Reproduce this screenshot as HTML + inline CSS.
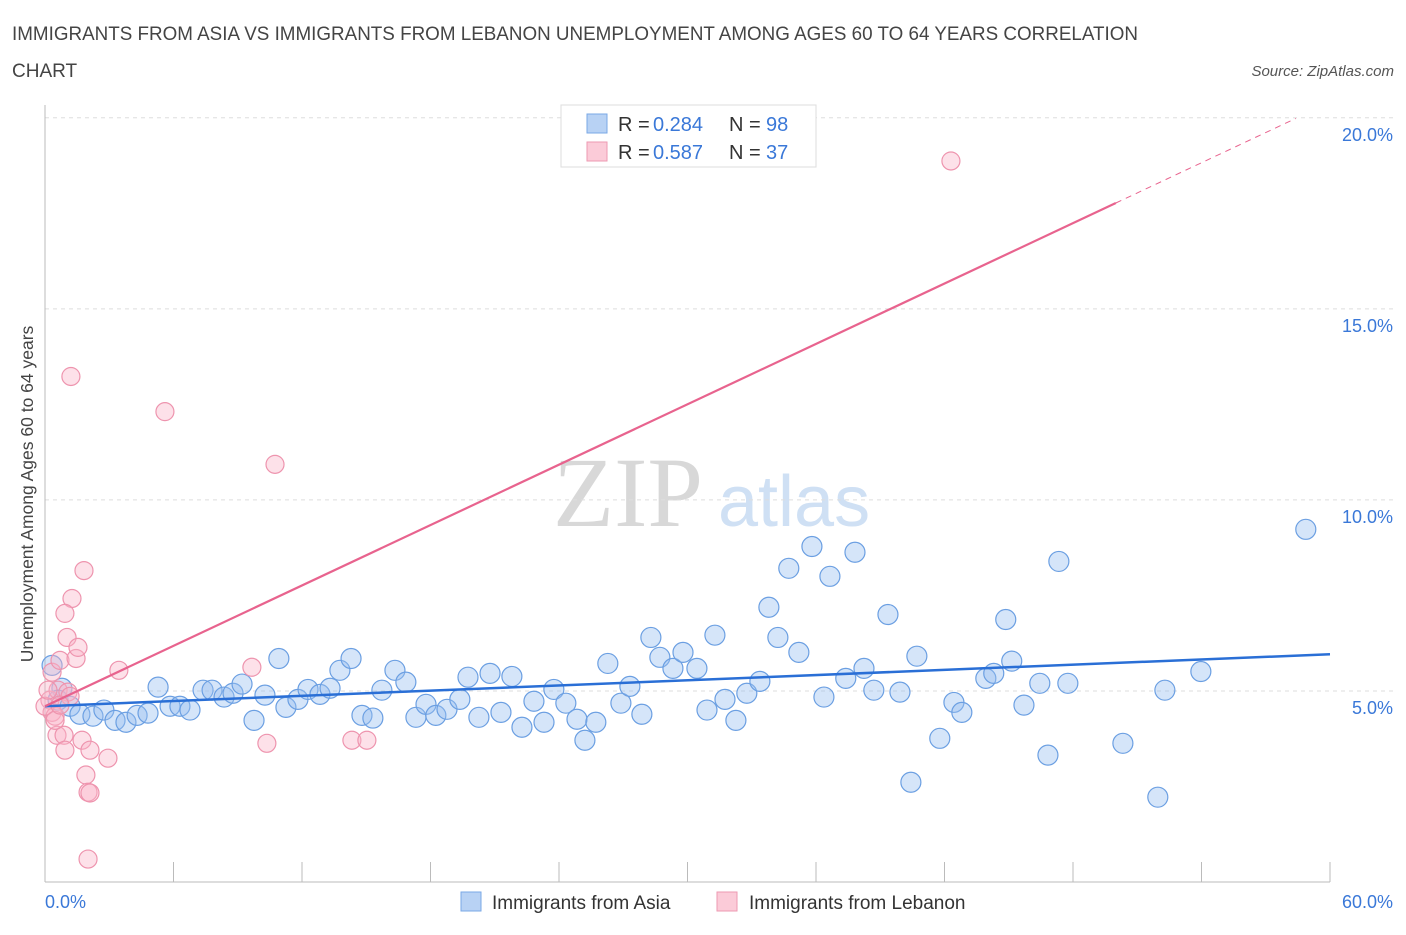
<!DOCTYPE html>
<html><head><meta charset="utf-8"><style>
body{margin:0;background:#fff;font-family:"Liberation Sans",sans-serif}
</style></head><body>
<svg id="chart" width="1406" height="930" viewBox="0 0 1406 930" xmlns="http://www.w3.org/2000/svg" font-family="Liberation Sans, sans-serif">
<text x="12" y="40" font-size="19" fill="#444" textLength="1126" lengthAdjust="spacingAndGlyphs">IMMIGRANTS FROM ASIA VS IMMIGRANTS FROM LEBANON UNEMPLOYMENT AMONG AGES 60 TO 64 YEARS CORRELATION</text>
<text x="12" y="77" font-size="19" fill="#444">CHART</text>
<text x="1394" y="76" font-size="15" fill="#555" text-anchor="end" font-style="italic">Source: ZipAtlas.com</text>
<text x="553" y="526" font-size="100" fill="#d8d8d8" style="font-family:'Liberation Serif',serif">ZIP</text>
<text x="718" y="526" font-size="72" fill="#cfe0f4">atlas</text>
<g id="grid"></g><g id="axes"></g><g id="pts"></g><g id="trend"></g>
<text transform="translate(33,494) rotate(-90)" font-size="17.5" fill="#444" text-anchor="middle">Unemployment Among Ages 60 to 64 years</text>
<g>
<rect x="561" y="105" width="255" height="62" fill="#fff" stroke="#ddd"/>
<rect x="587" y="114" width="20" height="19" fill="#b8d2f4" stroke="#7aa8e6"/>
<rect x="587" y="142" width="20" height="19" fill="#fbcbd8" stroke="#ee9ab2"/>
<text x="618" y="131" font-size="20" fill="#333">R =</text>
<text x="653" y="131" font-size="20" fill="#3a78d8">0.284</text>
<text x="729" y="131" font-size="20" fill="#333">N =</text>
<text x="766" y="131" font-size="20" fill="#3a78d8">98</text>
<text x="618" y="159" font-size="20" fill="#333">R =</text>
<text x="653" y="159" font-size="20" fill="#3a78d8">0.587</text>
<text x="729" y="159" font-size="20" fill="#333">N =</text>
<text x="766" y="159" font-size="20" fill="#3a78d8">37</text>
</g>
<g>
<rect x="461" y="892" width="20" height="19" fill="#b8d2f4" stroke="#7aa8e6"/>
<text x="492" y="909" font-size="19" fill="#333">Immigrants from Asia</text>
<rect x="717" y="892" width="20" height="19" fill="#fbcbd8" stroke="#ee9ab2"/>
<text x="749" y="909" font-size="19" fill="#333">Immigrants from Lebanon</text>
</g>
</svg>
<script>
const xTicksLabels=["0.0%","60.0%"];
const yTickValues=[5,10,15,20];
const yTickLabels=["5.0%","10.0%","15.0%","20.0%"];
const asiaX=[0.33,0.79,0.61,1.17,1.63,2.24,2.75,3.27,3.78,4.30,4.81,5.28,5.84,6.30,6.77,7.38,7.80,8.36,8.78,9.20,9.76,10.27,10.92,11.25,11.81,12.28,12.84,13.31,13.77,14.29,14.80,15.31,15.73,16.34,16.85,17.32,17.79,18.25,18.77,19.37,19.75,20.26,20.78,21.29,21.80,22.27,22.83,23.30,23.76,24.32,24.84,25.21,25.72,26.28,26.89,27.31,27.87,28.29,28.71,29.32,29.79,30.44,30.91,31.28,31.75,32.26,32.77,33.38,33.80,34.22,34.73,35.20,35.81,36.37,36.65,37.39,37.82,38.24,38.70,39.36,39.92,40.43,40.71,41.78,42.44,42.81,43.93,44.30,44.86,45.14,45.71,46.45,46.83,47.34,47.76,50.33,51.96,52.29,53.97,58.87];
const asiaY=[5.67,5.07,4.76,4.60,4.39,4.34,4.50,4.23,4.18,4.36,4.42,5.10,4.60,4.60,4.50,5.02,5.02,4.84,4.94,5.18,4.23,4.89,5.85,4.57,4.78,5.04,4.91,5.07,5.54,5.85,4.36,4.29,5.02,5.54,5.23,4.31,4.65,4.36,4.52,4.78,5.36,4.31,5.46,4.44,5.38,4.05,4.73,4.18,5.04,4.68,4.26,3.71,4.18,5.72,4.68,5.12,4.39,6.40,5.88,5.59,6.01,5.59,4.50,6.46,4.78,4.23,4.94,5.25,7.19,6.40,8.21,6.01,8.78,4.84,8.00,5.33,8.63,5.59,5.02,7.00,4.97,2.61,5.91,3.76,4.70,4.44,5.33,5.46,6.87,5.78,4.63,5.20,3.32,8.39,5.20,3.63,2.22,5.02,5.51,9.23];
const lebX=[0.23,0.33,0.47,0.56,0.33,0.61,0.70,0.89,0.93,1.03,1.07,1.17,1.26,0.93,1.45,1.54,1.73,1.82,1.91,2.01,2.10,2.01,2.10,2.94,3.45,1.21,5.60,9.66,10.36,10.74,14.33,15.03,42.30,0,0.14,0.47,0.70];
const lebY=[4.76,4.44,4.34,3.84,5.49,5.02,5.80,3.84,3.45,6.40,4.97,4.86,7.42,7.03,5.85,6.14,3.71,8.15,2.80,2.35,2.33,0.60,3.45,3.24,5.54,13.23,12.31,5.62,3.63,10.93,3.71,3.71,18.87,4.60,5.02,4.23,4.63];
const asiaTrend=[4.60,5.96];
const lebTrendStart=4.60, lebTrendSlope=0.2634;
const xs=v=>45+v*(1330-45)/60;
const ys=v=>882-v*(882-117.8)/20;
const NS="http://www.w3.org/2000/svg";
function mk(tag,attrs,parent){const e=document.createElementNS(NS,tag);for(const k in attrs)e.setAttribute(k,attrs[k]);parent.appendChild(e);return e;}
const grid=document.getElementById('grid'),axes=document.getElementById('axes'),pts=document.getElementById('pts'),trend=document.getElementById('trend');
yTickValues.forEach((v,i)=>{
 const l=mk('line',{x1:45,x2:1395,y1:ys(v),y2:ys(v),stroke:'#ddd','stroke-dasharray':'4,4'},grid);
 
 
 const t=mk('text',{x:1393,y:ys(v)+23,'font-size':18,fill:'#3a78d8','text-anchor':'end'},grid);
 t.textContent=yTickLabels[i];
 
 
});
const ax=mk('line',{x1:45,x2:1330,y1:882,y2:882,stroke:'#bbb'},axes);


const ay=mk('line',{x1:45,x2:45,y1:105,y2:882,stroke:'#bbb'},axes);


for(let v=6;v<=60;v+=6){const tk=mk('line',{x1:xs(v),x2:xs(v),y1:862,y2:882,stroke:'#bbb'},axes);
 
 }
[[0,'start',45],[60,'end',1393]].forEach((d,i)=>{const t=mk('text',{x:d[2],y:908,'font-size':18,fill:'#3a78d8','text-anchor':d[1]},axes);t.textContent=xTicksLabels[i];
 
 });
asiaX.forEach((x,i)=>{const c=mk('circle',{cx:xs(x),cy:ys(asiaY[i]),r:10,fill:'rgba(150,190,240,0.4)',stroke:'#6b9fe2','stroke-width':1.2},pts);
 
 });
lebX.forEach((x,i)=>{const c=mk('circle',{cx:xs(x),cy:ys(lebY[i]),r:9,fill:'rgba(250,180,200,0.4)',stroke:'#ee94ae','stroke-width':1.2},pts);
 
 });
const bt=mk('line',{x1:xs(0),y1:ys(asiaTrend[0]),x2:xs(60),y2:ys(asiaTrend[1]),stroke:'#2a6fd6','stroke-width':2.5},trend);


const pt=mk('line',{x1:xs(0),y1:ys(lebTrendStart),x2:xs(50),y2:ys(lebTrendStart+50*lebTrendSlope),stroke:'#e8638e','stroke-width':2.2},trend);


const pd=mk('line',{x1:xs(50),y1:ys(lebTrendStart+50*lebTrendSlope),x2:xs(58.4),y2:ys(lebTrendStart+58.4*lebTrendSlope),stroke:'#e8638e','stroke-width':1,'stroke-dasharray':'6,5'},trend);


</script>
</body></html>
